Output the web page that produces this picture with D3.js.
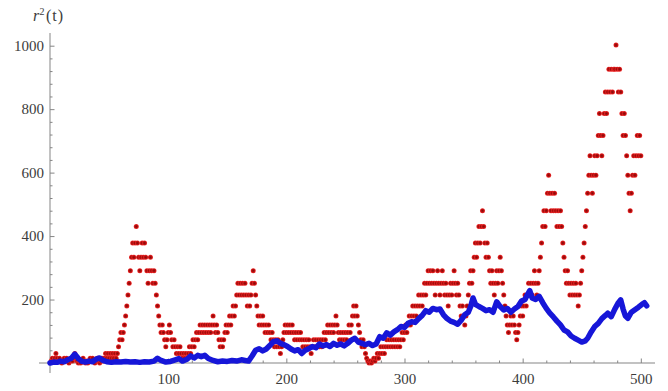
<!DOCTYPE html>
<html>
<head>
<meta charset="utf-8">
<script src="https://cdn.jsdelivr.net/npm/d3@7"></script>
<style>
  html, body { margin: 0; padding: 0; background: #ffffff; }
  svg { display: block; }
</style>
</head>
<body>
<svg id="chart" width="668" height="391"></svg>
<script>
// ---- data ----
const xTicks = [100, 200, 300, 400, 500];
const yTicks = [200, 400, 600, 800, 1000];

// red points: r^2 at t = 1 .. 500 (one value per step)
const redValues = [
  6,15,6,15,30,15,6,15,6,0,6,15,6,15,6,0,6,15,6,15,30,15,6,0,6,0,6,15,6,0,6,0,6,15,6,15,6,0,6,15,6,0,6,15,6,
  15,30,15,30,15,30,15,30,15,30,15,30,
  51,73,96,73,96,120,148,180,214,251,291,333,378,333,378,430,
  378,333,291,333,378,333,378,333,291,251,291,333,291,251,291,251,214,180,148,120,96,120,96,73,51,73,96,120,96,73,51,73,51,30,51,30,51,30,15,30,15,30,15,30,51,30,51,
  73,51,73,96,73,96,120,96,120,96,120,96,120,96,120,96,120,148,120,96,120,96,73,51,73,51,73,96,120,96,120,148,120,148,180,148,180,214,251,214,
  251,214,251,214,251,214,180,214,180,214,251,291,251,214,180,148,120,148,120,148,120,96,120,96,120,96,73,96,73,51,73,51,73,51,30,51,73,
  96,120,96,120,96,120,96,120,96,73,96,73,96,73,96,73,51,73,51,73,51,73,51,30,51,73,51,73,51,73,51,73,51,73,96,73,96,120,96,120,96,120,96,
  120,148,120,96,73,96,73,96,73,96,73,96,120,96,120,148,180,148,180,148,120,96,73,51,73,51,30,15,6,0,6,0,6,15,6,15,30,15,30,51,
  30,51,30,51,73,51,73,51,73,51,73,51,73,51,73,51,73,96,73,96,120,96,120,148,120,148,180,148,180,148,180,214,180,214,180,214,251,214,251,291,
  251,291,251,291,251,214,251,291,251,214,251,291,251,214,251,214,180,214,251,214,251,291,251,214,251,214,180,148,180,
  148,120,148,180,214,251,291,251,291,333,378,333,378,430,378,430,480,430,378,333,378,333,291,251,291,251,214,
  251,291,251,291,333,291,251,214,180,148,120,96,120,148,120,148,120,96,73,96,120,148,180,148,180,214,180,214,251,214,251,214,251,291,251,214,251,291,333,378,430,480,430,480,
  535,592,535,480,535,480,535,480,430,480,430,480,430,378,333,291,251,291,251,214,251,214,251,214,251,214,180,214,251,291,333,378,430,480,535,592,653,592,535,592,
  653,592,653,717,786,717,653,717,786,854,786,854,926,854,926,854,926,926,1002,926,854,926,854,786,717,786,717,653,592,535,480,535,592,653,592,653,717,653,717,653
];

// blue line: sampled times and values
const blueT = [0,3,6,9,12,15,18,21,24,27,30,33,36,39,42,45,48,52,56,60,64,68,72,76,80,84,88,91,94,98,
  102,106,109,112,116,119,122,125,128,131,134,138,142,146,150,154,158,162,165,168,171,174,177,180,183,186,189,192,195,198,
  201,204,207,210,213,216,219,222,225,228,231,234,237,240,243,246,249,252,255,258,261,264,267,270,273,276,279,282,285,288,
  291,294,297,300,303,306,309,312,315,318,321,324,327,330,333,336,339,342,345,348,351,354,356,358,360,363,366,369,372,375,
  378,381,384,387,390,393,396,399,402,404,406,408,411,414,417,420,423,426,429,432,435,438,441,444,447,450,453,455,458,461,
  464,467,470,472,475,478,481,483,485,487,489,492,495,498,501,503,505];
const blueV = [0,3,2,6,4,10,15,28,14,5,3,6,4,12,16,8,4,2,4,3,5,3,4,2,4,3,6,15,8,3,
  5,10,14,6,12,22,16,24,20,24,14,8,4,6,5,8,6,10,8,6,22,40,45,38,44,55,67,70,62,58,
  52,44,38,42,30,40,45,52,48,60,54,58,52,62,56,60,54,62,72,78,66,62,58,62,55,60,83,78,95,88,
  98,105,115,112,125,130,128,140,150,165,160,172,168,170,152,140,132,128,122,135,152,160,178,205,185,178,172,165,168,160,
  193,178,167,172,160,170,178,195,200,215,228,205,200,210,190,172,157,145,132,120,104,98,85,78,72,66,70,78,98,115,
  125,140,150,157,146,170,190,199,170,148,141,160,168,176,185,190,180];

// ---- drawing ----
const svg = d3.select("#chart");
const x = d3.scaleLinear().domain([0, 512]).range([50, 655]);
const y = d3.scaleLinear().domain([0, 1040]).range([363, 33]);

const axisColor = "#858585";
const textColor = "#3c3c3c";
const font = "'Liberation Serif', 'DejaVu Serif', serif";

// soft dot look (dark core, red rim)
const defs = svg.append("defs");
const grad = defs.append("radialGradient").attr("id", "dot");
grad.append("stop").attr("offset", "0%").attr("stop-color", "#7a0a0a");
grad.append("stop").attr("offset", "55%").attr("stop-color", "#b80e0e");
grad.append("stop").attr("offset", "100%").attr("stop-color", "#f02a2a");

// axis lines (crossing at origin with small overhang)
svg.append("line").attr("x1", x(0)).attr("x2", x(0))
  .attr("y1", y(1040)).attr("y2", y(0) + 10)
  .attr("stroke", axisColor).attr("stroke-width", 1);
svg.append("line").attr("x1", x(0) - 11).attr("x2", x(512))
  .attr("y1", y(0)).attr("y2", y(0))
  .attr("stroke", axisColor).attr("stroke-width", 1);

// minor ticks
const xMinor = d3.range(20, 512, 20).filter(v => v % 100 !== 0);
const yMinor = d3.range(40, 1040, 40).filter(v => v % 200 !== 0);

const xMinorAxis = d3.axisBottom(x).tickValues(xMinor).tickSize(-2.5).tickFormat("");
const yMinorAxis = d3.axisLeft(y).tickValues(yMinor).tickSize(-2.5).tickFormat("");
const xAxis = d3.axisBottom(x).tickValues(xTicks).tickSize(-4.5).tickPadding(10).tickFormat(d3.format("d"));
const yAxis = d3.axisLeft(y).tickValues(yTicks).tickSize(-4.5).tickPadding(6).tickFormat(d3.format("d"));

function styleAxis(g) {
  g.select(".domain").remove();
  g.selectAll(".tick line").attr("stroke", axisColor);
  g.selectAll(".tick text").attr("fill", textColor)
    .style("font-family", font).style("font-size", "15px");
}
svg.append("g").attr("transform", `translate(0,${y(0)})`).call(xMinorAxis).call(styleAxis);
svg.append("g").attr("transform", `translate(${x(0)},0)`).call(yMinorAxis).call(styleAxis);
svg.append("g").attr("transform", `translate(0,${y(0)})`).call(xAxis).call(styleAxis);
svg.append("g").attr("transform", `translate(${x(0)},0)`).call(yAxis).call(styleAxis);

// y axis title r^2(t)
const title = svg.append("g").attr("fill", textColor).style("font-family", font);
title.append("text").attr("x", 33).attr("y", 21).style("font-size", "16px")
  .style("font-style", "italic").text("r");
title.append("text").attr("x", 39.5).attr("y", 15).style("font-size", "10px").text("2");
title.append("text").attr("x", 46).attr("y", 21).style("font-size", "16px")
  .style("letter-spacing", "1px").text("(t)");

// red points
svg.append("g").selectAll("circle")
  .data(redValues)
  .join("circle")
  .attr("cx", (d, i) => x(i + 1))
  .attr("cy", d => y(d))
  .attr("r", 2.5)
  .attr("fill", "url(#dot)");

// blue line on top
const blueData = blueT.map((t, i) => [t, blueV[i]]);
svg.append("path")
  .datum(blueData)
  .attr("fill", "none")
  .attr("stroke", "#1616d8")
  .attr("stroke-width", 5.5)
  .attr("stroke-linejoin", "round")
  .attr("stroke-linecap", "round")
  .attr("d", d3.line().x(d => x(d[0])).y(d => y(d[1])));
</script>
</body>
</html>
